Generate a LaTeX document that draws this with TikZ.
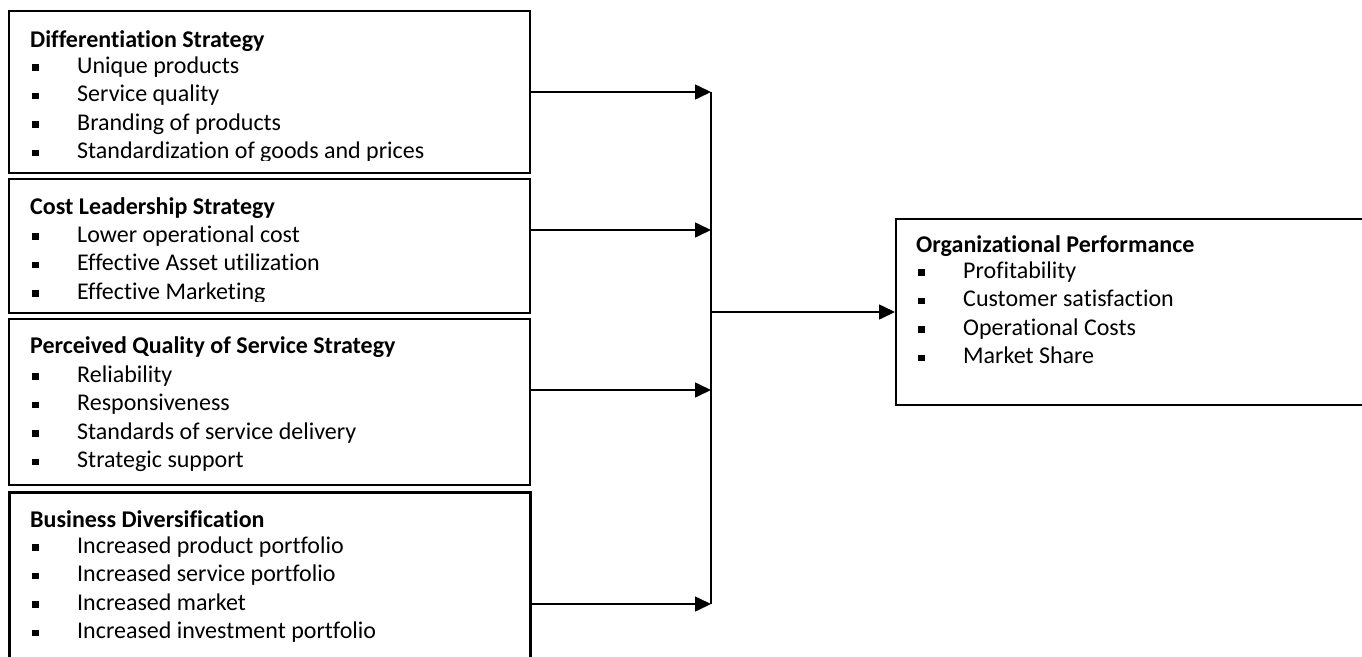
\documentclass[tikz,border=0pt]{standalone}
\usepackage{fontspec}
\setmainfont{Carlito}[Ligatures={NoCommon}]
\usetikzlibrary{arrows.meta}
\usetikzlibrary{calc}

\newcommand{\sqitem}{\hspace*{2pt}\rule[2.5pt]{6.5pt}{6.5pt}\hspace*{38.5pt}}

\begin{document}
\begin{tikzpicture}[x=1pt,y=-1pt,
  font=\fontsize{24}{29}\selectfont,
  frame/.style={draw,line width=1.5pt,inner sep=0pt,anchor=north west},
  head/.style={anchor=base west,inner sep=0pt,font=\fontsize{24}{29}\selectfont\bfseries},
  item/.style={anchor=base west,inner sep=0pt},
  conn/.style={line width=1.6pt,-{Triangle[length=16pt,width=15pt]}}]
\useasboundingbox (0,0) rectangle (1362,656);

% boxes
\node[frame,minimum width=521pt,minimum height=162pt] (diff) at (8,10) {};
\node[frame,minimum width=521pt,minimum height=134pt] (cost) at (8,178) {};
\node[frame,minimum width=521pt,minimum height=166pt] (qual) at (8,318) {};
\node[frame,line width=2.5pt,minimum width=521pt,minimum height=200pt] (bus) at (8,491) {};
\node[frame,minimum width=505pt,minimum height=186pt] (perf) at (895,218) {};

% texts
\begin{scope}
\clip (8,10) rectangle (529,160.5);
\node[head] (diff-h) at (30,47) {Differentiation Strategy};
\foreach \t [count=\i from 0] in {Unique products,Service quality,Branding of products,Standardization of goods and prices}
  \node[item] (diff-\i) at (30,73+28.5*\i) {\sqitem\t};
\end{scope}

\begin{scope}
\clip (8,178) rectangle (529,301);
\node[head] (cost-h) at (30,214) {Cost Leadership Strategy};
\foreach \t [count=\i from 0] in {Lower operational cost,Effective Asset utilization,Effective Marketing}
  \node[item] (cost-\i) at (30,242+28.5*\i) {\sqitem\t};
\end{scope}

\node[head] (qual-h) at (30,353) {Perceived Quality of Service Strategy};
\foreach \t [count=\i from 0] in {Reliability,Responsiveness,Standards of service delivery,Strategic support}
  \node[item] (qual-\i) at (30,382+28.5*\i) {\sqitem\t};

\node[head] (bus-h) at (30,527) {Business Diversification};
\foreach \t [count=\i from 0] in {Increased product portfolio,Increased service portfolio,Increased market,Increased investment portfolio}
  \node[item] (bus-\i) at (30,553+28.5*\i) {\sqitem\t};

\node[head] (perf-h) at (916,252) {Organizational Performance};
\foreach \t [count=\i from 0] in {Profitability,Customer satisfaction,Operational Costs,Market Share}
  \node[item] (perf-\i) at (916,278+28.5*\i) {\sqitem\t};

% connectors
\coordinate (j1) at (711,92);
\coordinate (j2) at (711,230);
\coordinate (j3) at (711,390);
\coordinate (j4) at (711,604);
\coordinate (jm) at (711,312);

\draw[conn] (diff.east |- j1) -- (j1);
\draw[conn] (cost.east |- j2) -- (j2);
\draw[conn] (qual.east |- j3) -- (j3);
\draw[conn] (bus.east |- j4) -- (j4);
\draw[line width=1.5pt] (j1) -- (j4);
\draw[conn] (jm) -- (perf.west |- jm);
\end{tikzpicture}
\end{document}
